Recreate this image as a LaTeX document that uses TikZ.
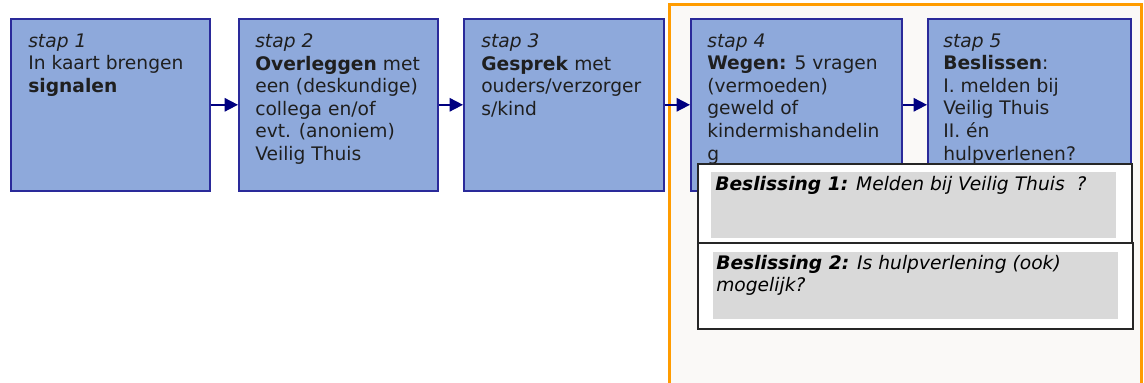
\documentclass[tikz,border=0pt]{standalone}
\usepackage{fontspec}
\setmainfont{DejaVu Sans}
\usetikzlibrary{arrows.meta, positioning}
\definecolor{stapblauw}{HTML}{8EA9DB}
\definecolor{randblauw}{HTML}{2A2A9A}
\definecolor{pijlblauw}{HTML}{000080}
\definecolor{oranje}{HTML}{FF9C00}
\definecolor{achtergrond}{HTML}{FAF9F7}
\definecolor{vakgrijs}{HTML}{D9D9D9}
\tikzset{
  stapbox/.style={draw=randblauw, fill=stapblauw, line width=1.2pt, anchor=north west,
    inner sep=0pt, minimum width=149.25pt, minimum height=129pt},
  staptekst/.style={anchor=north west, align=left, inner sep=0pt, text=black!88,
    font=\fontsize{14}{16.9}\selectfont},
  pijl/.style={draw=pijlblauw, line width=1.3pt, -{Triangle[length=10pt,width=10pt]}},
  besluitbox/.style={draw=black!85, fill=white, line width=1.5pt, anchor=north west,
    inner sep=0pt, minimum width=325.5pt},
  grijsvak/.style={fill=vakgrijs, anchor=north west, inner sep=0pt, minimum width=303.75pt},
  besluittekst/.style={anchor=north west, align=left, inner sep=0pt, text=black,
    font=\fontsize{14}{16.9}\selectfont}
}

\begin{document}
\begin{tikzpicture}[x=0.75pt, y=-0.75pt]
\useasboundingbox (0,0) rectangle (1144,382);

\node[draw=oranje, fill=achtergrond, line width=2.25pt, anchor=north west, inner sep=0pt,
  minimum width=354pt, minimum height=292pt] (kader) at (668,3) {};

\node[stapbox] (s1) at (10,18) {};
\node[stapbox] (s2) at (238,18) {};
\node[stapbox, minimum width=150pt] (s3) at (463,18) {};
\node[stapbox, minimum width=158.25pt] (s4) at (690,18) {};
\node[stapbox, minimum width=152.25pt] (s5) at (927,18) {};

\node[staptekst] (t1) at (28,33.5) {\textit{stap 1}\\In kaart brengen\\\textbf{signalen}};
\node[staptekst] (t2) at (255,33.5) {\textit{stap 2}\\\textbf{Overleggen} met\\een (deskundige)\\collega en/of\\evt. (anoniem)\\Veilig Thuis};
\node[staptekst] (t3) at (481,33.5) {\textit{stap 3}\\\textbf{Gesprek} met\\ouders/verzorger\\s/kind};
\node[staptekst] (t4) at (707,33.5) {\textit{stap 4}\\\textbf{Wegen:} 5 vragen\\(vermoeden)\\geweld of\\kindermishandelin\\g};
\node[staptekst] (t5) at (943,33.5) {\textit{stap 5}\\\textbf{Beslissen}:\\I. melden bij\\Veilig Thuis\\II. én\\hulpverlenen?};

\draw[pijl] (s1) -- (s2);
\draw[pijl] (s2) -- (s3);
\draw[pijl] (s3) -- (s4);
\draw[pijl] (s4) -- (s5);

\node[besluitbox, minimum height=59.25pt] (b1) at (697,163) {};
\node[besluitbox, minimum width=326.25pt, minimum height=64.5pt] (b2) at (697,242) {};
\node[grijsvak, minimum height=49.5pt] (g1) at (711,172) {};
\node[grijsvak, minimum height=50.25pt] (g2) at (713,252) {};

\node[besluittekst] (bt1) at (715,176) {\textbf{\textit{Beslissing 1:}} \textit{Melden bij Veilig Thuis\ \ ?}};
\node[besluittekst] (bt2) at (716,255) {\textbf{\textit{Beslissing 2:}} \textit{Is hulpverlening (ook)}\\\textit{mogelijk?}};
\end{tikzpicture}
\end{document}
